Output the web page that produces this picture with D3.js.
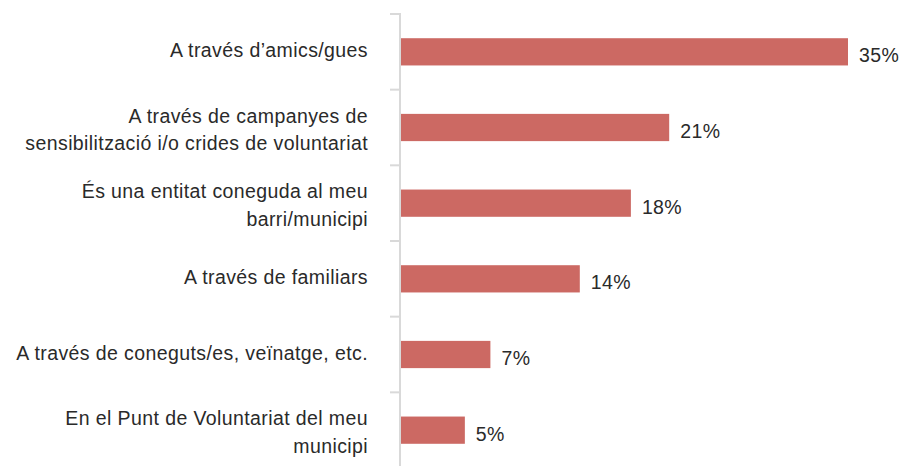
<!DOCTYPE html>
<html>
<head>
<meta charset="utf-8">
<script src="https://cdn.jsdelivr.net/npm/d3@7"></script>
<style>
  html, body { margin: 0; padding: 0; background: #ffffff; }
  svg { display: block; }
  text { font-family: "Liberation Sans", Arial, Helvetica, sans-serif; fill: #2a2a2a; letter-spacing: 0.4px; }
</style>
</head>
<body>
<svg id="chart" width="906" height="466"></svg>
<script>
// Categories, each split into the lines it is drawn on
const categories = [
  ["A través d’amics/gues"],
  ["A través de campanyes de", "sensibilització i/o crides de voluntariat"],
  ["És una entitat coneguda al meu", "barri/municipi"],
  ["A través de familiars"],
  ["A través de coneguts/es, veïnatge, etc."],
  ["En el Punt de Voluntariat del meu", "municipi"]
];
// Share of respondents, in percent
const values = [35, 21, 18, 14, 7, 5];

const svg = d3.select("#chart");
const keys = categories.map(c => c.join(" "));
const data = keys.map((k, i) => ({ key: k, lines: categories[i], value: values[i] }));

const axisX = 400;
const x = d3.scaleLinear().domain([0, d3.max(values)]).range([axisX + 1, 848]);
const y = d3.scaleBand().domain(keys).range([14, 468]).paddingInner(0.64).paddingOuter(0.32);

// Vertical category axis with ticks between categories
const axisColor = "#d9d9d9";
const y0 = y.range()[0];
const boundaries = d3.range(keys.length + 1).map(i => y0 + i * y.step());
svg.append("line")
  .attr("x1", axisX).attr("x2", axisX)
  .attr("y1", boundaries[0] - 1).attr("y2", 470)
  .attr("stroke", axisColor).attr("stroke-width", 2);
svg.selectAll("line.tick").data(boundaries).join("line")
  .attr("class", "tick")
  .attr("x1", axisX - 10).attr("x2", axisX)
  .attr("y1", d => d).attr("y2", d => d)
  .attr("stroke", axisColor).attr("stroke-width", 2);

// Bars
svg.selectAll("rect.bar").data(data).join("rect")
  .attr("class", "bar")
  .attr("x", x(0))
  .attr("y", d => y(d.key))
  .attr("width", d => x(d.value) - x(0))
  .attr("height", y.bandwidth())
  .attr("fill", "#cc6963");

// Value labels
svg.selectAll("text.value").data(data).join("text")
  .attr("class", "value")
  .attr("x", d => x(d.value) + 11)
  .attr("y", d => y(d.key) + y.bandwidth() / 2 + 10.5)
  .attr("font-size", 19.5)
  .text(d => d.value + "%");

// Category labels, right aligned against the axis
const lineH = 27.5;
const labels = svg.selectAll("text.cat").data(data).join("text")
  .attr("class", "cat")
  .attr("text-anchor", "end")
  .attr("font-size", 19.5);
labels.each(function(d) {
  const n = d.lines.length;
  const cy = y(d.key) + y.bandwidth() / 2;
  d3.select(this).selectAll("tspan").data(d.lines).join("tspan")
    .attr("x", 368)
    .attr("y", (t, i) => cy + 5 + (i - (n - 1) / 2) * lineH + (n - 1) * 4)
    .text(t => t);
});
</script>
</body>
</html>
